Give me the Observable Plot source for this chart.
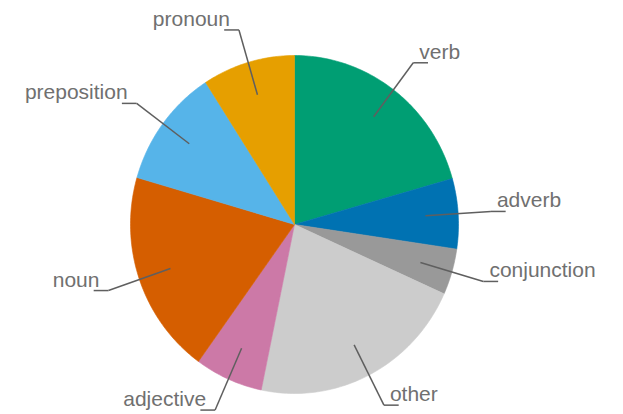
<!DOCTYPE html>
<html>
<head>
<meta charset="utf-8">
<script src="https://cdn.jsdelivr.net/npm/d3@7"></script>
<script src="https://cdn.jsdelivr.net/npm/@observablehq/plot@0.6"></script>
<style>
  html, body { margin: 0; padding: 0; background: #fff; }
</style>
</head>
<body>
<div id="chart"></div>
<script>
// Data (shares, clockwise from 12 o'clock)
const categories = ["verb", "adverb", "conjunction", "other", "adjective", "noun", "preposition", "pronoun"];
const values = [20.6, 6.7, 4.4, 21.5, 6.7, 19.5, 11.4, 9.1];
const colors = ["#009E73", "#0072B2", "#999999", "#CCCCCC", "#CC79A7", "#D55E00", "#56B4E9", "#E69F00"];

const total = d3.sum(values);
let acc = 0;
const slices = categories.map((name, i) => {
  const a0 = acc / total * 2 * Math.PI;
  acc += values[i];
  const a1 = acc / total * 2 * Math.PI;
  return { name, a0, a1, mid: (a0 + a1) / 2 };
});

// polygon outline for each slice (sampled arc)
const pts = [];
for (const s of slices) {
  pts.push({ name: s.name, x: 0, y: 0 });
  const n = Math.max(2, Math.ceil((s.a1 - s.a0) / (Math.PI / 180)));
  for (let k = 0; k <= n; k++) {
    const a = s.a0 + (s.a1 - s.a0) * k / n;
    pts.push({ name: s.name, x: Math.sin(a), y: Math.cos(a) });
  }
  pts.push({ name: s.name, x: 0, y: 0 });
}

const inner = 0.8, outer = 1.2, seg = 0.09;
const labels = slices.map(s => {
  const right = s.mid < Math.PI;
  const ex = Math.sin(s.mid) * outer, ey = Math.cos(s.mid) * outer;
  return {
    name: s.name, right,
    ix: Math.sin(s.mid) * inner, iy: Math.cos(s.mid) * inner,
    ex, ey, sx: ex + (right ? seg : -seg)
  };
});

const font = "Liberation Sans, Arial, Helvetica, sans-serif";
const chart = Plot.plot({
  width: 623,
  height: 414,
  margin: 0,
  x: { domain: [-1, 1], range: [130, 458], axis: null },
  y: { domain: [-1, 1], range: [393, 55], axis: null },
  color: { domain: categories, range: colors },
  style: { fontFamily: font, background: "#fff" },
  marks: [
    Plot.line(pts, { x: "x", y: "y", z: "name", fill: "name", stroke: "name", strokeWidth: 0.6, curve: "linear" }),
    Plot.link(labels, { x1: "ix", y1: "iy", x2: "ex", y2: "ey", stroke: "#5f5f5f", strokeWidth: 1.5 }),
    Plot.link(labels, { x1: "ex", y1: "ey", x2: "sx", y2: "ey", stroke: "#5f5f5f", strokeWidth: 1.5 }),
    Plot.text(labels.filter(d => d.right), { x: "ex", y: "ey", text: "name", textAnchor: "start", lineAnchor: "bottom", dx: 6, dy: -4, fontSize: 21, fill: "#707070" }),
    Plot.text(labels.filter(d => !d.right), { x: "ex", y: "ey", text: "name", textAnchor: "end", lineAnchor: "bottom", dx: -9, dy: -4, fontSize: 21, fill: "#707070" })
  ]
});
document.getElementById("chart").appendChild(chart);
</script>
</body>
</html>
